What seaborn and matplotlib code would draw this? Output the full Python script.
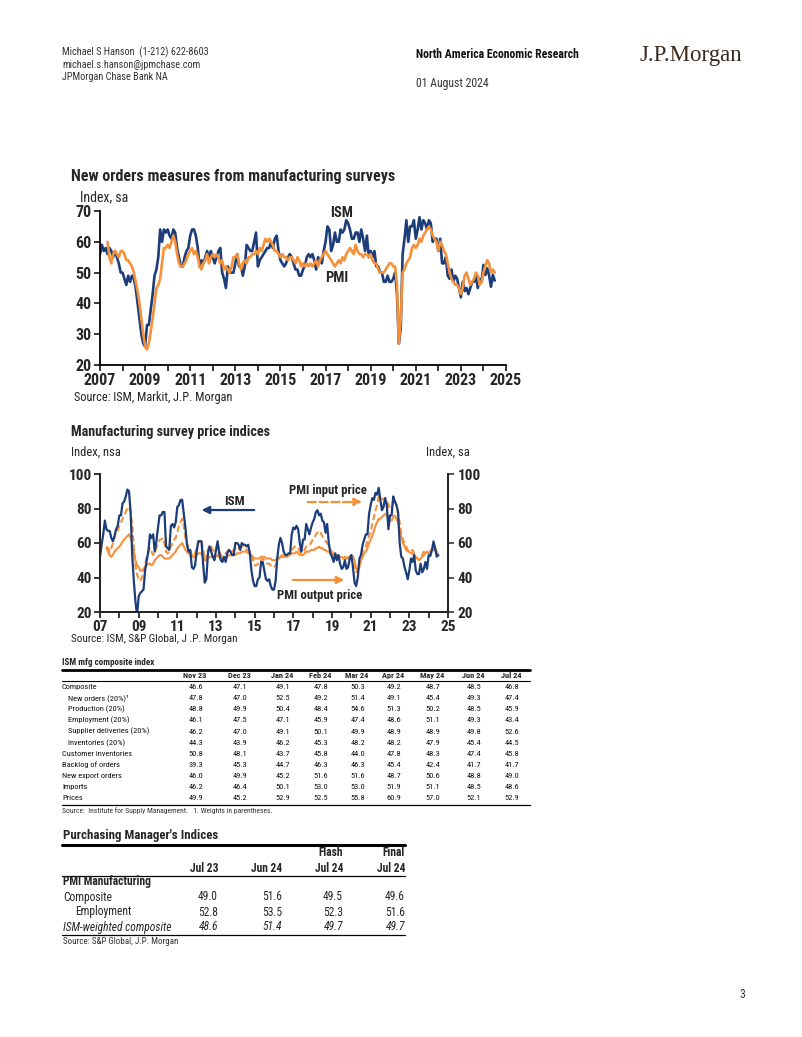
import numpy as np
import pandas as pd
import matplotlib
matplotlib.use("Agg")
import matplotlib.pyplot as plt
from matplotlib.lines import Line2D
import seaborn as sns

sns.set_theme(style="ticks")
FAM = ["Roboto Condensed", "Liberation Sans", "DejaVu Sans"]
plt.rcParams["font.family"] = FAM

# ---------------- data ----------------
ism_new_orders = [
    56, 59, 57, 58, 56, 58, 57, 55, 57, 55, 53, 50,
    50, 48, 46, 49, 47, 49, 48, 45, 40, 35, 30, 27,
    26, 33, 33, 38, 43, 49, 51, 55, 64, 60, 64, 63,
    64, 62, 61, 64, 63, 58, 55, 52, 52, 55, 57, 58,
    62, 64, 64, 62, 58, 52, 54, 53, 55, 57, 55, 57,
    55, 53, 55, 57, 58, 50, 48, 45, 52, 50, 50, 50,
    53, 56, 52, 52, 49, 52, 59, 58, 57, 57, 60, 63,
    52, 54, 55, 56, 57, 58, 58, 60, 58, 61, 62, 57,
    54, 53, 52, 53, 55, 56, 55, 53, 51, 51, 49, 49,
    51, 52, 55, 56, 55, 56, 54, 51, 55, 54, 53, 57,
    60, 65, 64, 57, 59, 63, 60, 60, 64, 63, 64, 67,
    66, 64, 61, 61, 63, 63, 60, 64, 61, 57, 62, 55,
    57, 55, 57, 52, 52, 50, 50, 47, 47, 49, 47, 47,
    48, 50, 43, 27, 32, 56, 61, 67, 60, 65, 65, 67,
    61, 64, 68, 64, 67, 66, 64, 67, 66, 60, 61, 61,
    57, 61, 53, 53, 55, 49, 48, 51, 47, 49, 48, 45,
    42, 47, 44, 45, 43, 45, 47, 47, 49, 45, 48, 47,
    52.5, 49.2, 51.4, 49.1, 45.4, 49.3, 47.4,
]
# PMI new orders, from May 2007
pmi_new_orders = [
    60, 55, 53, 56, 57, 56, 55, 57,
    57, 56, 54, 54, 53, 52, 50, 47, 44, 40, 35, 30,
    26, 25, 27, 31, 35, 40, 45, 46, 48, 53, 58, 58,
    59, 58, 60, 62, 60, 56, 53, 52, 52, 53, 54, 56,
    57, 58, 56, 57, 55, 52, 51, 53, 54, 56, 53, 55,
    56, 55, 56, 55, 53, 54, 51, 52, 51, 50, 52, 55,
    55, 56, 53, 51, 53, 54, 53, 55, 55, 56, 56, 57,
    56, 58, 57, 59, 61, 60, 61, 60, 59, 57, 57, 56,
    55, 56, 55, 55, 54, 55, 55, 54, 53, 55, 54, 52,
    53, 52, 53, 52, 53, 52, 53, 54, 52, 54, 55, 56,
    57, 56, 55, 54, 53, 52, 53, 54, 53, 55, 54, 56,
    57, 58, 57, 56, 59, 57, 56, 56, 55, 56, 56, 55,
    56, 54, 53, 53, 51, 50, 50, 50, 51, 52, 53, 53,
    52, 52, 46, 27, 35, 50, 51, 53, 54, 55, 58, 59,
    58, 59, 61, 60, 62, 63, 64, 65, 64, 62, 61, 60,
    57, 60, 59, 57, 56, 53, 50, 48, 47, 46, 46, 45,
    43, 45, 49, 50, 48, 46, 47, 48, 50, 49, 46, 47,
    50, 52, 54, 53, 50, 51, 50,
]
ism_prices = [
    52, 59, 65, 73, 68, 67, 67, 63, 61, 64, 68, 70,
    76, 76, 83, 84, 87, 91, 90, 78, 53, 38, 26, 18,
    29, 31, 32, 33, 44, 50, 55, 65, 63, 65, 55, 61,
    69, 76, 76, 78, 78, 58, 57, 56, 70, 71, 69, 72,
    81, 82, 85, 85, 77, 69, 59, 55, 56, 46, 45, 47,
    55, 61, 61, 61, 48, 37, 39, 54, 58, 55, 52, 50,
    56, 61, 54, 50, 49, 52, 49, 54, 56, 55, 53, 53,
    60, 60, 59, 56, 60, 59, 59, 58, 59, 54, 44, 38,
    35, 35, 39, 40, 49, 49, 44, 39, 38, 39, 35, 33,
    33, 38, 51, 59, 63, 60, 55, 53, 53, 54, 54, 65,
    69, 68, 70, 68, 60, 55, 62, 62, 71, 68, 65, 69,
    72, 74, 78, 79, 76, 77, 73, 72, 66, 71, 60, 54,
    52, 49, 54, 50, 53, 48, 45, 46, 50, 45, 46, 51,
    53, 46, 37, 35, 40, 51, 53, 59, 62, 65, 65, 77,
    82, 86, 85, 89, 88, 92, 85, 79, 81, 86, 82, 68,
    76, 76, 87, 84, 82, 78, 60, 52, 51, 46, 43, 39,
    44, 51, 49, 53, 44, 42, 42, 48, 43, 45, 49, 45,
    52.9, 52.5, 55.8, 60.9, 57.0, 52.1, 52.9,
]
# PMI input / output prices, from May 2007
pmi_input_price = [
    58, 57, 55, 57, 60, 63, 66, 67,
    70, 72, 74, 76, 78, 80, 81, 78, 70, 58, 47, 42,
    39, 38, 40, 43, 47, 52, 55, 57, 55, 53, 55, 57,
    60, 62, 62, 63, 60, 55, 54, 55, 58, 60, 62, 63,
    66, 70, 72, 74, 70, 63, 60, 57, 56, 53, 52, 54,
    57, 60, 61, 62, 56, 50, 52, 56, 59, 58, 56, 55,
    56, 58, 56, 53, 52, 53, 54, 55, 56, 55, 55, 56,
    57, 58, 57, 57, 58, 58, 57, 56, 56, 55, 53, 50,
    47, 47, 48, 48, 50, 51, 50, 49, 48, 48, 47, 46,
    46, 47, 49, 51, 52, 53, 53, 52, 52, 53, 54, 56,
    57, 58, 58, 57, 55, 54, 55, 56, 58, 59, 59, 60,
    62, 63, 65, 66, 67, 66, 64, 62, 61, 60, 58, 56,
    55, 54, 54, 53, 53, 52, 51, 51, 52, 51, 51, 52,
    53, 52, 48, 43, 44, 47, 52, 55, 57, 58, 61, 64,
    67, 71, 75, 79, 82, 87, 87, 86, 85, 86, 85, 82,
    80, 80, 84, 85, 82, 77, 72, 66, 62, 60, 58, 56,
    55, 55, 56, 54, 52, 51, 50, 52, 53, 55, 54, 54,
    54, 55, 57, 56, 56, 54, 53,
]
pmi_output_price = [
    57, 55, 53, 52, 53, 55, 56, 57,
    58, 59, 61, 62, 63, 64, 65, 63, 60, 55, 50, 47,
    46, 44, 44, 45, 46, 47, 48, 48, 47, 48, 50, 51,
    52, 53, 53, 52, 51, 51, 51, 51, 52, 53, 54, 55,
    57, 58, 59, 60, 58, 56, 55, 54, 53, 52, 52, 52,
    53, 54, 54, 54, 52, 50, 50, 51, 52, 52, 52, 52,
    52, 53, 52, 51, 51, 51, 52, 52, 53, 53, 53, 53,
    53, 54, 54, 54, 55, 55, 55, 55, 54, 54, 53, 52,
    51, 51, 51, 51, 52, 52, 52, 51, 51, 51, 51, 50,
    50, 50, 51, 51, 52, 52, 52, 52, 52, 53, 53, 54,
    54, 54, 55, 54, 53, 53, 53, 54, 55, 55, 55, 56,
    56, 56, 57, 57, 58, 57, 57, 56, 56, 55, 55, 54,
    54, 53, 53, 53, 52, 52, 52, 51, 51, 51, 52, 52,
    52, 52, 50, 45, 44, 46, 50, 52, 54, 55, 57, 60,
    62, 64, 67, 70, 72, 74, 74, 75, 76, 77, 76, 74,
    73, 73, 75, 76, 74, 72, 68, 63, 60, 58, 56, 55,
    55, 54, 54, 53, 52, 51, 50, 51, 52, 53, 54, 55,
    54, 55, 56, 57, 57, 55, 53,
]

# ISM table
ism_cols = ["Nov 23", "Dec 23", "Jan 24", "Feb 24", "Mar 24", "Apr 24", "May 24", "Jun 24", "Jul 24"]
ism_rows = ["Composite", "New orders (20%)\u00b9", "Production (20%)", "Employment (20%)",
            "Supplier deliveries (20%)", "Inventories (20%)", "Customer inventories",
            "Backlog of orders", "New export orders", "Imports", "Prices"]
ism_indent = [0, 1, 1, 1, 1, 1, 0, 0, 0, 0, 0]
ism_composite = [46.6, 47.1, 49.1, 47.8, 50.3, 49.2, 48.7, 48.5, 46.8]
ism_new = [47.8, 47.0, 52.5, 49.2, 51.4, 49.1, 45.4, 49.3, 47.4]
ism_prod = [48.8, 49.9, 50.4, 48.4, 54.6, 51.3, 50.2, 48.5, 45.9]
ism_emp = [46.1, 47.5, 47.1, 45.9, 47.4, 48.6, 51.1, 49.3, 43.4]
ism_supp = [46.2, 47.0, 49.1, 50.1, 49.9, 48.9, 48.9, 49.8, 52.6]
ism_inv = [44.3, 43.9, 46.2, 45.3, 48.2, 48.2, 47.9, 45.4, 44.5]
ism_cust = [50.8, 48.1, 43.7, 45.8, 44.0, 47.8, 48.3, 47.4, 45.8]
ism_backlog = [39.3, 45.3, 44.7, 46.3, 46.3, 45.4, 42.4, 41.7, 41.7]
ism_export = [46.0, 49.9, 45.2, 51.6, 51.6, 48.7, 50.6, 48.8, 49.0]
ism_imports = [46.2, 46.4, 50.1, 53.0, 53.0, 51.9, 51.1, 48.5, 48.6]
ism_pricesrow = [49.9, 45.2, 52.9, 52.5, 55.8, 60.9, 57.0, 52.1, 52.9]
ism_values = [ism_composite, ism_new, ism_prod, ism_emp, ism_supp, ism_inv,
              ism_cust, ism_backlog, ism_export, ism_imports, ism_pricesrow]

# PMI table
pmi_cols_top = ["", "", "Flash", "Final"]
pmi_cols = ["Jul 23", "Jun 24", "Jul 24", "Jul 24"]
pmi_rows = ["Composite", "Employment", "ISM-weighted composite"]
pmi_composite = [49.0, 51.6, 49.5, 49.6]
pmi_employment = [52.8, 53.5, 52.3, 51.6]
pmi_ism_weighted = [48.6, 51.4, 49.7, 49.7]
pmi_values = [pmi_composite, pmi_employment, pmi_ism_weighted]

# ---------------- helpers ----------------
W, H = 802, 1037
NAVY = "#1c3d7a"
ORANGE = "#f5913a"


def yearfrac(start, n):
    d = pd.date_range(start, periods=n, freq="MS")
    return d.year + (d.month - 1) / 12.0


def ftxt(x, y, s, **kw):
    kw.setdefault("va", "center")
    kw.setdefault("family", FAM)
    fig.text(x / W, 1 - y / H, s, **kw)


def hline(x0, x1, y, lw):
    fig.add_artist(Line2D([x0 / W, x1 / W], [1 - y / H, 1 - y / H], color="black", lw=lw,
                          transform=fig.transFigure))


fig = plt.figure(figsize=(W / 100, H / 100), dpi=100)

# ---------------- page header ----------------
hdr_col = "#333333"
ftxt(62, 52, "Michael S Hanson  (1-212) 622-8603", fontsize=7.4, color=hdr_col)
ftxt(62, 65, "michael.s.hanson@jpmchase.com", fontsize=7.4, color=hdr_col)
ftxt(62, 77, "JPMorgan Chase Bank NA", fontsize=7.4, color=hdr_col)
ftxt(416, 54, "North America Economic Research", fontsize=8.5, fontweight="bold", color="#111111")
ftxt(416, 83, "01 August 2024", fontsize=8.5, color=hdr_col)
ftxt(640, 55, "J.P.Morgan", fontsize=16.5, color="#3a2a1e", family=["Liberation Serif", "DejaVu Serif"])
ftxt(740, 995, "3", fontsize=8.5, color=hdr_col)

# ---------------- chart 1 ----------------
ax1 = fig.add_axes([100 / W, (H - 365) / H, 406 / W, 154 / H])
df1 = pd.DataFrame({"x": yearfrac("2007-01", len(ism_new_orders)), "y": ism_new_orders})
df1b = pd.DataFrame({"x": yearfrac("2007-05", len(pmi_new_orders)), "y": pmi_new_orders})
sns.lineplot(data=df1, x="x", y="y", ax=ax1, color=NAVY, lw=1.9)
sns.lineplot(data=df1b, x="x", y="y", ax=ax1, color=ORANGE, lw=1.9)
ax1.set_xlim(2007, 2025)
ax1.set_ylim(20, 70)
ax1.set_xticks(np.arange(2007, 2026, 2))
ax1.set_xticks(np.arange(2007, 2026, 1), minor=True)
ax1.set_yticks(np.arange(20, 71, 10))
ax1.set_xlabel("")
ax1.set_ylabel("")
for sp in ["top", "right"]:
    ax1.spines[sp].set_visible(False)
for sp in ["left", "bottom"]:
    ax1.spines[sp].set_linewidth(1.3)
    ax1.spines[sp].set_color("black")
ax1.tick_params(axis="both", which="both", direction="out", length=4, width=1.1, color="black",
                labelsize=11.5)
ax1.tick_params(axis="both", which="major", pad=2)
for lab in ax1.get_xticklabels() + ax1.get_yticklabels():
    lab.set_fontweight("bold")
ax1.text(0.596, 0.99, "ISM", transform=ax1.transAxes, ha="center", va="center",
         fontsize=10.5, fontweight="bold")
ax1.text(0.584, 0.565, "PMI", transform=ax1.transAxes, ha="center", va="center",
         fontsize=10.5, fontweight="bold")
ftxt(71, 176, "New orders measures from manufacturing surveys", fontsize=11.5, fontweight="bold")
ftxt(80, 197, "Index, sa", fontsize=10)
ftxt(74, 397, "Source: ISM, Markit, J.P. Morgan", fontsize=8.8, color="#222222")

# ---------------- chart 2 ----------------
ax2 = fig.add_axes([100 / W, (H - 612) / H, 348 / W, 138 / H])
df2 = pd.DataFrame({"x": yearfrac("2007-01", len(ism_prices)), "y": ism_prices})
df2i = pd.DataFrame({"x": yearfrac("2007-05", len(pmi_input_price)), "y": pmi_input_price})
df2o = pd.DataFrame({"x": yearfrac("2007-05", len(pmi_output_price)), "y": pmi_output_price})
sns.lineplot(data=df2o, x="x", y="y", ax=ax2, color=ORANGE, lw=1.5)
sns.lineplot(data=df2i, x="x", y="y", ax=ax2, color=ORANGE, lw=1.5, linestyle=(0, (3, 1.5)))
sns.lineplot(data=df2, x="x", y="y", ax=ax2, color=NAVY, lw=1.6)
ax2.set_xlim(2007, 2025)
ax2.set_ylim(20, 100)
ax2.set_xticks(np.arange(2007, 2026, 2))
ax2.set_xticklabels([f"{y % 100:02d}" for y in range(2007, 2026, 2)])
ax2.set_xticks(np.arange(2007, 2026, 1), minor=True)
ax2.set_yticks(np.arange(20, 101, 20))
ax2.set_xlabel("")
ax2.set_ylabel("")
ax2.spines["top"].set_visible(False)
for sp in ["left", "bottom", "right"]:
    ax2.spines[sp].set_linewidth(1.3)
    ax2.spines[sp].set_color("black")
ax2.tick_params(axis="both", which="both", direction="out", length=4, width=1.1, color="black",
                labelsize=11, pad=2)
for lab in ax2.get_xticklabels() + ax2.get_yticklabels():
    lab.set_fontweight("bold")
ax2r = ax2.twinx()
ax2r.set_ylim(20, 100)
ax2r.set_yticks(np.arange(20, 101, 20))
ax2r.spines["top"].set_visible(False)
ax2r.spines["right"].set_linewidth(1.3)
ax2r.tick_params(axis="y", direction="out", length=4, width=1.1, labelsize=11, pad=3)
for lab in ax2r.get_yticklabels():
    lab.set_fontweight("bold")

ax2.text(0.385, 0.80, "ISM", transform=ax2.transAxes, ha="center", va="center",
         fontsize=9.5, fontweight="bold")
ax2.annotate("", xy=(0.284, 0.739), xytext=(0.451, 0.739), xycoords="axes fraction",
             arrowprops=dict(arrowstyle="-|>", color=NAVY, lw=1.6, mutation_scale=11))
ax2.text(0.654, 0.877, "PMI input price", transform=ax2.transAxes, ha="center", va="center",
         fontsize=9.2, fontweight="bold")
ax2.annotate("", xy=(0.761, 0.797), xytext=(0.589, 0.797), xycoords="axes fraction",
             arrowprops=dict(arrowstyle="-|>", color=ORANGE, lw=1.6, ls="--", mutation_scale=11))
ax2.text(0.630, 0.116, "PMI output price", transform=ax2.transAxes, ha="center", va="center",
         fontsize=9.2, fontweight="bold")
ax2.annotate("", xy=(0.710, 0.232), xytext=(0.546, 0.232), xycoords="axes fraction",
             arrowprops=dict(arrowstyle="-|>", color=ORANGE, lw=1.6, mutation_scale=11))
ftxt(71, 432, "Manufacturing survey price indices", fontsize=10.2, fontweight="bold")
ftxt(71, 452, "Index, nsa", fontsize=9)
ftxt(426, 452, "Index, sa", fontsize=9)
ftxt(71, 639, "Source: ISM, S&P Global, J .P. Morgan", fontsize=8, color="#222222")

# ---------------- table 1 ----------------
ftxt(62, 662.5, "ISM mfg composite index", fontsize=6.5, fontweight="bold")
hline(62, 530, 669.5, 2.0)
col_x = [195, 239, 282, 320, 357, 393, 432, 473, 511]
for cx, c in zip(col_x, ism_cols):
    ftxt(cx, 675.5, c, fontsize=6, fontweight="bold", ha="center")
hline(62, 530, 681, 0.8)
row_y0, row_dy = 687, 11.15
for i, (rname, ind, vals) in enumerate(zip(ism_rows, ism_indent, ism_values)):
    yy = row_y0 + i * row_dy
    ftxt(62 + 6 * ind, yy, rname, fontsize=6, color="#111111")
    for cx, v in zip(col_x, vals):
        ftxt(cx + 1, yy, f"{v:.1f}", fontsize=6, ha="center", color="#111111")
hline(62, 530, 804.5, 0.9)
ftxt(62, 811, "Source:  Institute for Supply Management.   1. Weights in parentheses.", fontsize=5.5,
     color="#333333")

# ---------------- table 2 ----------------
ftxt(63, 835, "Purchasing Manager's Indices", fontsize=9.3, fontweight="bold")
hline(62, 405, 845, 2.2)
pcol_x = [218, 282, 343, 405]
for cx, t, c in zip(pcol_x, pmi_cols_top, pmi_cols):
    if t:
        ftxt(cx, 853, t, fontsize=8.3, fontweight="bold", ha="right")
    ftxt(cx, 868, c, fontsize=8.3, fontweight="bold", ha="right")
hline(62, 405, 875.5, 0.9)
ftxt(63, 882, "PMI Manufacturing", fontsize=8.3, fontweight="bold")
prow_y = [897, 912, 927]
for j, (rname, vals) in enumerate(zip(pmi_rows, pmi_values)):
    style = "italic" if j == 2 else "normal"
    xoff = 75 if j == 1 else 63
    ftxt(xoff, prow_y[j], rname, fontsize=8.3, style=style)
    for cx, v in zip(pcol_x, vals):
        ftxt(cx, prow_y[j], f"{v:.1f}", fontsize=8.3, ha="right", style=style)
hline(62, 405, 935, 0.9)
ftxt(63, 942, "Source: S&P Global, J.P. Morgan", fontsize=6.5, color="#333333")

fig.savefig("out.png", dpi=100)
